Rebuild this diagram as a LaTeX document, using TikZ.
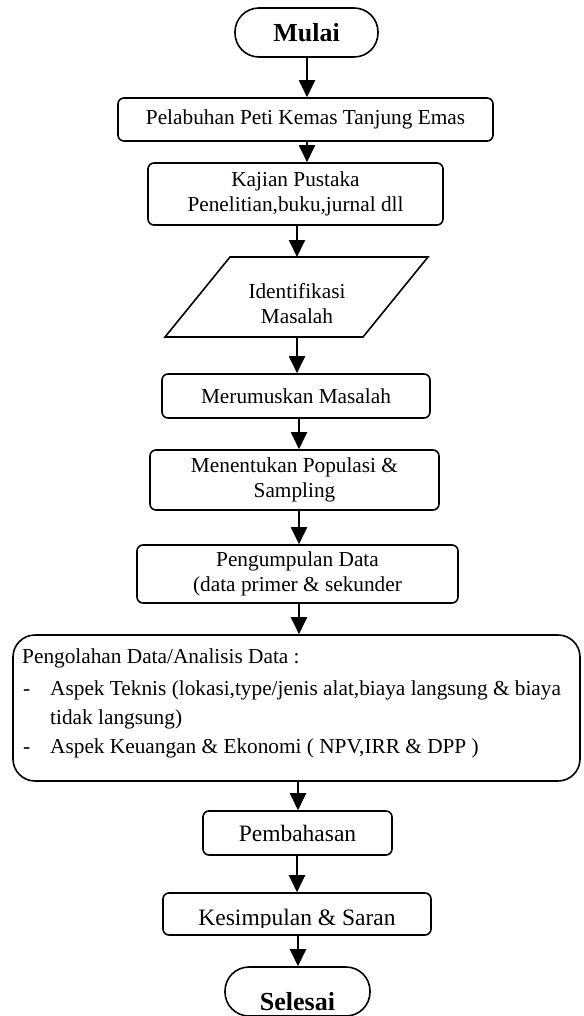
\documentclass[tikz,border=0pt]{standalone}
\usepackage{fontspec}
\setmainfont{Liberation Serif}
\usetikzlibrary{arrows.meta}
\begin{document}
\begin{tikzpicture}[x=1pt,y=-1pt,
  every node/.style={font=\fontsize{21.3}{25}\selectfont},
  box/.style={draw, line width=1.6pt, rounded corners=6pt, inner sep=0pt, align=center},
  term/.style={draw, line width=1.6pt, rounded corners=24pt, inner sep=0pt, align=center,
    font=\fontsize{26}{30}\selectfont\bfseries},
  txt/.style={inner sep=0pt, anchor=base west},
  arr/.style={line width=2pt, -{Triangle[width=16pt,length=17pt]}}]
\clip (0,0) rectangle (583,1016);
\useasboundingbox (0,0) rectangle (583,1016);

% nodes
\node[term, minimum width=143pt, minimum height=49pt] (mulai) at (306.5,32.5) {Mulai};
\node[box, minimum width=375pt, minimum height=43pt] (pel) at (305.5,119.5) {Pelabuhan Peti Kemas Tanjung Emas};
\node[box, minimum width=295pt, minimum height=62pt] (kaj) at (295.5,194) {Kajian Pustaka\\Penelitian,buku,jurnal dll};

\coordinate (pTL) at (230,257);
\coordinate (pTR) at (428,257);
\coordinate (pBR) at (363,337);
\coordinate (pBL) at (165,337);
\coordinate (parTop) at (297,257);
\coordinate (parBot) at (297,337);
\draw[line width=1.6pt, line join=miter] (pTL) -- (pTR) -- (pBR) -- (pBL) -- cycle;
\begin{scope}
  \clip (150,250) rectangle (450,328);
  \node[inner sep=0pt, align=center] (idn) at (297,303.5) {Identifikasi\\Masalah};
\end{scope}

\node[box, minimum width=268pt, minimum height=44pt] (mer) at (296,396) {Merumuskan Masalah};
\node[box, minimum width=289pt, minimum height=60pt] (men) at (294.5,480) {Menentukan Populasi \&\\Sampling};
\node[box, minimum width=321pt, minimum height=58pt] (peng) at (297.5,574) {Pengumpulan Data\\(data primer \& sekunder};

\node[box, rounded corners=22pt, minimum width=567pt, minimum height=146pt] (olah) at (296.5,708) {};
\node[txt] (t1) at (22,663) {Pengolahan Data/Analisis Data :};
\node[txt] (d1) at (23,695) {-};
\node[txt] (t2) at (50,695) {Aspek Teknis (lokasi,type/jenis alat,biaya langsung \& biaya};
\node[txt] (t3) at (50,724) {tidak langsung)};
\node[txt] (d2) at (23,753) {-};
\node[txt] (t4) at (50,753) {Aspek Keuangan \& Ekonomi ( NPV,IRR \& DPP )};

\node[box, minimum width=189pt, minimum height=44pt, font=\fontsize{23.5}{27}\selectfont] (pem) at (297.5,833) {Pembahasan};
\node[box, minimum width=268pt, minimum height=42pt] (kes) at (297,914) {};
\begin{scope}
  \clip (150,880) rectangle (450,927);
  \node[inner sep=0pt, anchor=base, font=\fontsize{23.5}{27}\selectfont] (kest) at (297,925) {Kesimpulan \& Saran};
\end{scope}
\node[term, minimum width=145pt, minimum height=49pt] (sel) at (297.5,991.5) {};
\node[inner sep=0pt, anchor=base, font=\fontsize{26}{30}\selectfont\bfseries] (selt) at (297.5,1010) {Selesai};

% x positions of connectors
\coordinate (xa) at (307,0);
\coordinate (xb) at (297,0);
\coordinate (xc) at (299,0);
\coordinate (xd) at (298,0);

% connectors
\draw[arr] (mulai.south -| xa) -- (pel.north -| xa);
\draw[arr] (pel.south -| xa) -- (kaj.north -| xa);
\draw[arr] (kaj.south -| xb) -- (parTop);
\draw[arr] (parBot) -- (mer.north -| xb);
\draw[arr] (mer.south -| xc) -- (men.north -| xc);
\draw[arr] (men.south -| xc) -- (peng.north -| xc);
\draw[arr] (peng.south -| xc) -- (olah.north -| xc);
\draw[arr] (olah.south -| xd) -- (pem.north -| xd);
\draw[arr] (pem.south -| xb) -- (kes.north -| xb);
\draw[arr] (kes.south -| xd) -- (sel.north -| xd);
\end{tikzpicture}
\end{document}
